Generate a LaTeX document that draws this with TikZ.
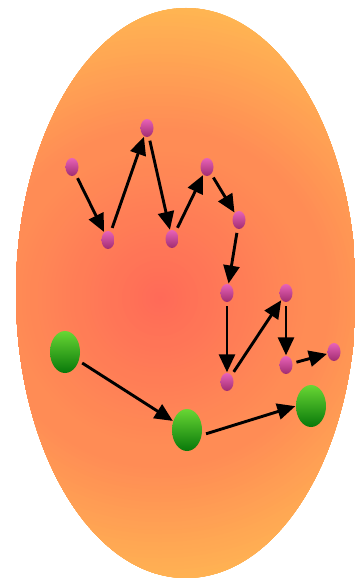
\documentclass[tikz,border=0pt]{standalone}
\usetikzlibrary{arrows.meta,shapes.geometric}
\definecolor{glowin}{RGB}{255,106,88}
\definecolor{glowmid}{RGB}{255,140,85}
\definecolor{glowout}{RGB}{255,184,82}
\definecolor{pinktop}{RGB}{232,98,184}
\definecolor{pinkbot}{RGB}{160,44,112}
\definecolor{greentop}{RGB}{104,214,52}
\definecolor{greenbot}{RGB}{8,120,10}
\tikzset{
  pdot/.style={ellipse, minimum width=13pt, minimum height=18pt, inner sep=0pt, top color=pinktop, bottom color=pinkbot},
  gdot/.style={ellipse, minimum width=30pt, minimum height=42pt, inner sep=0pt, top color=greentop, bottom color=greenbot},
  arr/.style={-{Triangle[length=18pt,width=16pt]}, line width=2.9pt, black, shorten <=4pt, shorten >=0.5pt},
}
\begin{document}
\begin{tikzpicture}[x=1pt,y=-1pt]
\useasboundingbox (0,0) rectangle (354,578);
\fill[white] (0,0) rectangle (354,578);
\begin{scope}
\clip (186,293) ellipse [x radius=170, y radius=285];
\foreach \r in {304,300,...,172} {
  \pgfmathsetmacro\t{(\r-170)/130*100}
  \fill[glowout!\t!glowmid] (160,298) circle [radius=\r];
}
\foreach \r in {170,166,...,2} {
  \pgfmathsetmacro\t{min(100,\r/150*100)}
  \fill[glowmid!\t!glowin] (160,298) circle [radius=\r];
}
\end{scope}
\node[pdot] (a) at (72,167) {};
\node[pdot] (b) at (108,240) {};
\node[pdot] (c) at (147,128) {};
\node[pdot] (d) at (172,239) {};
\node[pdot] (e) at (207,167) {};
\node[pdot] (f) at (239,220) {};
\node[pdot] (g) at (227,293) {};
\node[pdot] (h) at (227,382) {};
\node[pdot] (i) at (286,293) {};
\node[pdot] (j) at (286,365) {};
\node[pdot] (k) at (334,352) {};
\node[gdot] (g1) at (65,352) {};
\node[gdot] (g2) at (187,430) {};
\node[gdot] (g3) at (311,406) {};
\draw[arr] (a) -- (b);
\draw[arr] (b) -- (c);
\draw[arr] (c) -- (d);
\draw[arr] (d) -- (e);
\draw[arr] (e) -- (f);
\draw[arr] (f) -- (g);
\draw[arr] (g) -- (h);
\draw[arr] (h) -- (i);
\draw[arr] (i) -- (j);
\draw[arr] (j) -- (k);
\draw[arr] (g1) -- (g2);
\draw[arr] ([yshift=-5pt]g2.east) -- (g3.west);
\end{tikzpicture}
\end{document}
